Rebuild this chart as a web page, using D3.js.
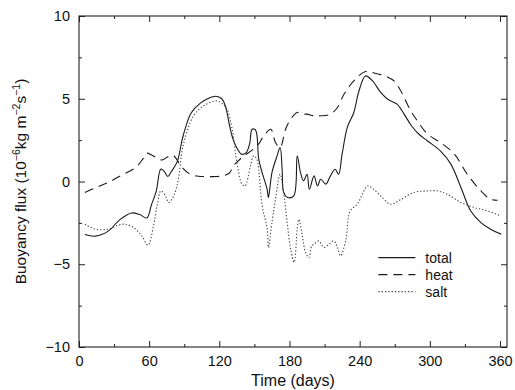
<!DOCTYPE html>
<html>
<head>
<meta charset="utf-8">
<script src="https://cdn.jsdelivr.net/npm/d3@7"></script>
<style>
  body { margin: 0; background: #fff; }
  text { font-family: "Liberation Sans", Arial, sans-serif; fill: #111; }
</style>
</head>
<body>
<div id="wrapper"></div>
<script>
// [day, buoyancy flux]
var totalFlux = [[5,-3.2],[14,-3.3],[25,-3.0],[35,-2.3],[45,-1.9],[52,-2.0],[58,-2.2],[62,-1.4],[66,-0.6],[70,0.75],[73,0.6],[76,0.3],[79,0.6],[84,1.2],[89,2.75],[96,4.15],[104,4.75],[110,5.0],[117,5.15],[122,5.0],[125,4.6],[129,3.3],[132,2.5],[136,1.9],[139,1.65],[143,1.75],[146,2.3],[148,3.16],[151,3.1],[153.7,1.35],[156.6,0.54],[160.9,-0.47],[162,-0.97],[165,0.54],[169.4,1.55],[172,2.05],[173.7,0.74],[175,-0.66],[178.5,-0.97],[183.7,-0.87],[186.6,1.55],[189.4,0.54],[192,0.04],[195,0.44],[197,-0.47],[201,0.34],[204,-0.27],[206.6,0.14],[211,-0.16],[215,0.34],[219,0.74],[222,0.44],[225,1.65],[229.4,3.26],[235,4.17],[239.4,5.47],[245,6.38],[251,6.08],[258,5.38],[264,4.97],[272,4.67],[278,4.07],[284,3.4],[290,2.9],[298,2.45],[309,1.85],[318,1.05],[326.6,-0.36],[335,-1.78],[343.7,-2.48],[352,-2.88],[361,-3.18]];

var heatFlux = [[5,-0.66],[15,-0.35],[25,-0.06],[37,0.4],[48.6,0.85],[55,1.4],[58,1.71],[62,1.6],[66,1.45],[71,1.3],[76,1.5],[80,1.6],[83,1.4],[87,0.94],[95,0.44],[102,0.32],[109,0.3],[118,0.3],[125,0.38],[129,0.54],[132,0.94],[137,1.3],[141,1.55],[149,1.95],[154,2.3],[158,2.75],[164,3.16],[168,2.36],[172,2.05],[176.6,3.16],[181,3.76],[186.6,4.17],[192,4.07],[195,4.07],[201,3.97],[206.6,3.97],[215,4.07],[221,4.47],[226.6,5.27],[235,6.08],[245,6.65],[253.7,6.53],[263.7,6.32],[269.4,6.08],[275,5.5],[283.7,4.27],[290,3.6],[298,2.86],[309,2.36],[321,1.65],[332,0.44],[343.7,-0.57],[352,-1.07],[358,-1.13]];

var saltFlux = [[5,-2.58],[14,-2.88],[25,-2.88],[33,-2.65],[39.4,-2.58],[46.6,-2.78],[53.7,-3.29],[59,-3.85],[63.7,-2.68],[67,-1.4],[70,-0.57],[74,-0.87],[76.6,-1.27],[81,-0.87],[85,0.14],[89,2.15],[98,3.97],[106.6,4.57],[118,4.87],[124,4.6],[126.6,4.37],[131,3.16],[135,1.15],[139.4,-0.16],[142,-0.27],[146.6,0.94],[149.4,1.55],[152,1.35],[156.6,-1.47],[161,-2.88],[162,-3.99],[165,-2.48],[168,-1.07],[172,0.44],[174.6,-0.47],[178,-2.48],[181,-4.09],[184,-4.89],[186.6,-2.88],[188,-2.28],[191,-3.29],[193.7,-4.29],[196.6,-4.6],[199,-3.89],[201,-3.79],[205,-3.59],[209.4,-3.99],[213.7,-3.79],[218,-3.59],[221,-3.99],[223.7,-4.49],[228,-3.59],[232,-1.78],[238,-1.37],[242.3,-0.77],[246.6,-0.27],[252,-0.47],[259.4,-0.97],[266.6,-1.37],[275,-1.1],[286.6,-0.66],[298,-0.57],[306.6,-0.57],[315,-0.77],[326.6,-1.27],[338,-1.57],[349.4,-1.78],[361,-2.08]];

var seriesNames = ["total", "heat", "salt"];
var xMajorTicks = [0, 60, 120, 180, 240, 300, 360];
var xMinorTicks = [30, 90, 150, 210, 270, 330];
var yMajorTicks = [-10, -5, 0, 5, 10];
var yMinorTicks = [-7.5, -2.5, 2.5, 7.5];

var dimension = {
    width: 515,
    height: 390,
    margin: { top: 16, left: 79, bottom: 43, right: 8 }
}
dimension.boundedWidth = dimension.width - dimension.margin.left - dimension.margin.right;
dimension.boundedHeight = dimension.height - dimension.margin.top - dimension.margin.bottom;

var styles = {
    total: { dash: null, color: "#1a1a1a", width: 1.1 },
    heat: { dash: "9,6", color: "#1a1a1a", width: 1.1 },
    salt: { dash: "1.3,2", color: "#444", width: 1.1 }
}

const svg = d3.select("#wrapper")
    .append("svg")
    .attr("width", dimension.width)
    .attr("height", dimension.height)

const bounded = svg.append("g")
    .attr("transform", `translate(${dimension.margin.left},${dimension.margin.top})`);

const xScaler = d3.scaleLinear()
    .domain([0, 366])
    .range([0, dimension.boundedWidth]);

const yScaler = d3.scaleLinear()
    .domain([-10, 10])
    .range([dimension.boundedHeight, 0]);

const fmt = d => (d < 0 ? "\u2212" + Math.abs(d) : "" + d);

// ticks pointing inward on all four sides
function addAxis(gen, transform, values, size, labels) {
    const g = bounded.append("g")
        .attr("transform", transform)
        .call(gen.tickValues(values).tickSizeInner(-size).tickSizeOuter(0)
            .tickPadding(9).tickFormat(labels ? fmt : ""));
    g.select(".domain").remove();
    g.selectAll("line").attr("stroke", "#222");
    g.selectAll("text").style("font-size", "14.5px")
        .style("font-family", "'Liberation Sans', Arial, sans-serif").attr("fill", "#111");
    return g;
}
addAxis(d3.axisBottom(xScaler), `translate(0,${dimension.boundedHeight})`, xMajorTicks, 6, true);
addAxis(d3.axisBottom(xScaler), `translate(0,${dimension.boundedHeight})`, xMinorTicks, 3, false);
addAxis(d3.axisTop(xScaler), "translate(0,0)", xMajorTicks, 6, false);
addAxis(d3.axisTop(xScaler), "translate(0,0)", xMinorTicks, 3, false);
addAxis(d3.axisLeft(yScaler), "translate(0,0)", yMajorTicks, 6, true);
addAxis(d3.axisLeft(yScaler), "translate(0,0)", yMinorTicks, 3, false);
addAxis(d3.axisRight(yScaler), `translate(${dimension.boundedWidth},0)`, yMajorTicks, 6, false);
addAxis(d3.axisRight(yScaler), `translate(${dimension.boundedWidth},0)`, yMinorTicks, 3, false);

bounded.append("rect")
    .attr("width", dimension.boundedWidth)
    .attr("height", dimension.boundedHeight)
    .attr("fill", "none")
    .attr("stroke", "#222")
    .attr("stroke-width", 1.1);

const lineGen = d3.line()
    .x(d => xScaler(d[0]))
    .y(d => yScaler(d[1]))
    .curve(d3.curveCatmullRom.alpha(0.5));

var seriesData = { total: totalFlux, heat: heatFlux, salt: saltFlux };

bounded.append("g")
    .selectAll("path")
    .data(seriesNames)
    .enter()
    .append("path")
    .attr("d", d => lineGen(seriesData[d]))
    .attr("fill", "none")
    .attr("stroke", d => styles[d].color)
    .attr("stroke-width", d => styles[d].width)
    .attr("stroke-dasharray", d => styles[d].dash);

// legend
const legend = bounded.append("g")
    .attr("transform", `translate(${xScaler(256)},${yScaler(-4.6)})`);
const legendItem = legend.selectAll("g")
    .data(seriesNames)
    .enter()
    .append("g")
    .attr("transform", (d, i) => `translate(0,${i * 17})`);
legendItem.append("line")
    .attr("x1", 0).attr("x2", 37)
    .attr("stroke", d => styles[d].color)
    .attr("stroke-width", d => styles[d].width)
    .attr("stroke-dasharray", d => styles[d].dash);
legendItem.append("text")
    .attr("x", 47).attr("y", 5)
    .style("font-size", "14px")
    .text(d => d);

// axis titles
svg.append("text")
    .attr("x", dimension.margin.left + xScaler(183))
    .attr("y", 386)
    .attr("text-anchor", "middle")
    .style("font-size", "16px")
    .text("Time (days)");

const yTitle = svg.append("text")
    .attr("transform", `translate(26,${dimension.margin.top + yScaler(0)}) rotate(-90)`)
    .attr("text-anchor", "middle")
    .style("font-size", "15.5px");
yTitle.append("tspan").text("Buoyancy flux (10");
yTitle.append("tspan").attr("dy", -6).style("font-size", "10.5px").text("\u22126");
yTitle.append("tspan").attr("dy", 6).text("kg m");
yTitle.append("tspan").attr("dy", -6).style("font-size", "10.5px").text("\u22122");
yTitle.append("tspan").attr("dy", 6).text("s");
yTitle.append("tspan").attr("dy", -6).style("font-size", "10.5px").text("\u22121");
yTitle.append("tspan").attr("dy", 6).text(")");
</script>
</body>
</html>
